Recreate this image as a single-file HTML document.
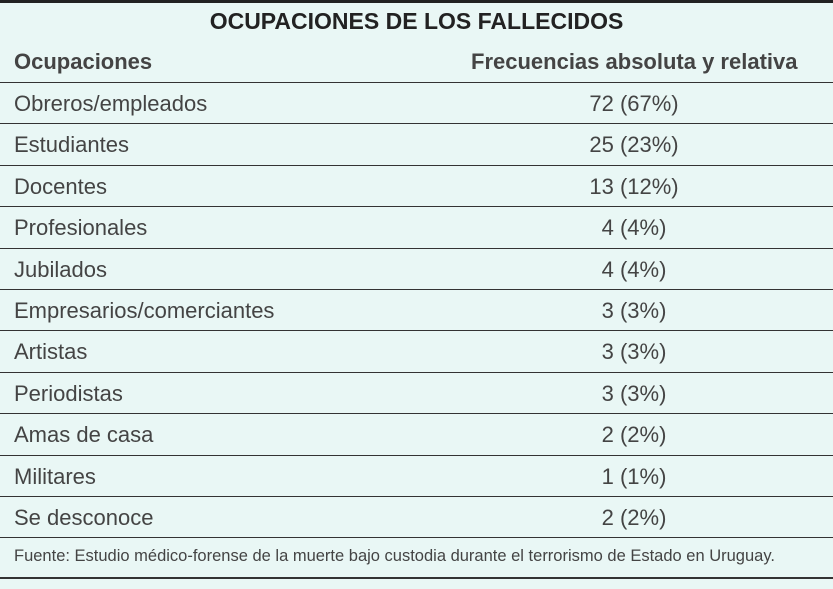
<!DOCTYPE html>
<html><head><meta charset="utf-8"><style>
body{margin:0;width:833px;height:589px;background:#e9f7f5;font-family:"Liberation Sans",sans-serif;color:#444;position:relative;overflow:hidden}
.top{position:absolute;left:0;top:0;width:833px;height:3px;background:#222}
.title{position:absolute;left:0;width:833px;top:8px;text-align:center;font-weight:bold;font-size:23px;color:#222}
.h{position:absolute;top:49px;font-weight:bold;font-size:22px;color:#444}
.row{position:absolute;left:0;width:833px;height:41px}
.row .a{position:absolute;left:14px;top:9px;font-size:22px}
.row .b{position:absolute;left:534px;width:200px;text-align:center;top:9px;font-size:22px}
.line{position:absolute;left:0;width:833px;height:1px;background:#333}
.foot{position:absolute;left:14px;top:547px;font-size:16.5px;color:#444}
</style></head><body>
<div class="top"></div>
<div class="title">OCUPACIONES DE LOS FALLECIDOS</div>
<div class="h" style="left:14px">Ocupaciones</div>
<div class="h" style="left:471px">Frecuencias absoluta y relativa</div>
<div id="rows"></div>
<div class="foot">Fuente: Estudio médico-forense de la muerte bajo custodia durante el terrorismo de Estado en Uruguay.</div>
<div class="line" style="top:577px;height:2px"></div>
<script>
const labels=["Obreros/empleados","Estudiantes","Docentes","Profesionales","Jubilados","Empresarios/comerciantes","Artistas","Periodistas","Amas de casa","Militares","Se desconoce"];
const counts=[72,25,13,4,4,3,3,3,2,1,2];
const pcts=[67,23,12,4,4,3,3,3,2,1,2];
const c=document.getElementById('rows');
const y0=82,rh=41.4;
for(let i=0;i<=labels.length;i++){
  const l=document.createElement('div');l.className='line';l.style.top=Math.round(y0+i*rh)+'px';
  
  
  c.appendChild(l);
}
labels.forEach((t,i)=>{
  const r=document.createElement('div');r.className='row';r.style.top=Math.round(y0+i*rh)+'px';
  
  
  const a=document.createElement('div');a.className='a';a.textContent=t;
  
  
  const b=document.createElement('div');b.className='b';b.textContent=counts[i]+' ('+pcts[i]+'%)';
  
  
  r.appendChild(a);r.appendChild(b);c.appendChild(r);
});
</script>
</body></html>
